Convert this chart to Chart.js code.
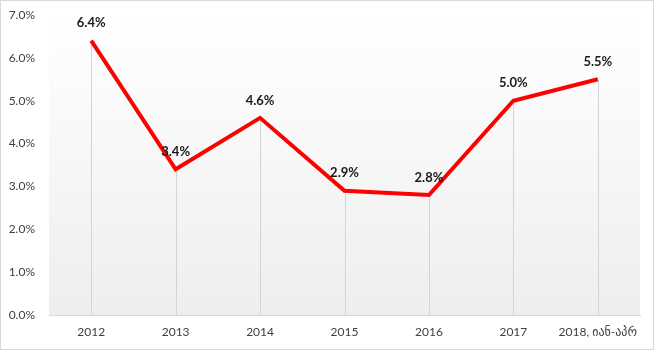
<!DOCTYPE html>
<html>
<head>
<meta charset="utf-8">
<script src="https://cdn.jsdelivr.net/npm/chart.js@4"></script>
<style>
    html, body { margin: 0; padding: 0; background: #ffffff; }
    #wrap { width: 654px; height: 350px; position: relative; }
</style>
</head>
<body>
<div id="wrap"><canvas id="rateChart"></canvas></div>
<script>
/* ── Data ── */
const years  = ['2012', '2013', '2014', '2015', '2016', '2017', '2018, იან-აპრ'];
const rates  = [6.4, 3.4, 4.6, 2.9, 2.8, 5.0, 5.5];
const yTicks = [0, 1, 2, 3, 4, 5, 6, 7];

const FONT = "Lato, 'DejaVu Sans', sans-serif";

/* ── Plot area gradient + outer frame ── */
const frame = {
    id: 'frame',
    beforeDraw(chart) {
        const { ctx, chartArea: a } = chart;
        ctx.save();
        const g = ctx.createLinearGradient(0, a.top, 0, a.bottom);
        g.addColorStop(0, '#ffffff');
        g.addColorStop(1, '#eeeeee');
        ctx.fillStyle = g;
        ctx.fillRect(a.left, a.top, a.right - a.left, a.bottom - a.top);
        ctx.strokeStyle = '#d9d9d9';
        ctx.lineWidth = 1;
        ctx.strokeRect(0.5, 0.5, chart.width - 1, chart.height - 1);
        ctx.restore();
    }
};

/* ── Drop lines from each point to the axis ── */
const dropLines = {
    id: 'dropLines',
    beforeDatasetsDraw(chart) {
        const { ctx, chartArea: a } = chart;
        const pts = chart.getDatasetMeta(0).data;
        ctx.save();
        ctx.strokeStyle = '#d4d4d4';
        ctx.lineWidth = 1;
        pts.forEach(p => {
            const x = Math.round(p.x) + 0.5;
            ctx.beginPath();
            ctx.moveTo(x, p.y);
            ctx.lineTo(x, a.bottom);
            ctx.stroke();
        });
        ctx.restore();
    }
};

/* ── Value labels above points ── */
const valueLabels = {
    id: 'valueLabels',
    afterDatasetsDraw(chart) {
        const { ctx } = chart;
        const pts = chart.getDatasetMeta(0).data;
        ctx.save();
        ctx.font = `bold 13px ${FONT}`;
        ctx.fillStyle = '#1a1a1a';
        ctx.textAlign = 'center';
        ctx.textBaseline = 'bottom';
        pts.forEach((p, i) => {
            ctx.fillText(rates[i].toFixed(1) + '%', p.x, p.y - 11);
        });
        ctx.restore();
    }
};

new Chart(document.getElementById('rateChart'), {
    type: 'line',
    data: {
        labels: years,
        datasets: [{
            data: rates,
            borderColor: '#ff0000',
            borderWidth: 4,
            pointRadius: 0,
            tension: 0,
            fill: false
        }]
    },
    options: {
        responsive: true,
        maintainAspectRatio: false,
        animation: false,
        layout: { padding: { top: 15, right: 14, left: 0, bottom: 0 } },
        plugins: { legend: { display: false }, tooltip: { enabled: false } },
        scales: {
            x: {
                offset: true,
                grid: { display: false, drawTicks: false },
                border: { display: true, color: '#d9d9d9', width: 1 },
                ticks: { color: '#404040', padding: 10, font: { size: 12, family: FONT } },
                afterFit(s) { s.height = 35; s.paddingLeft = 0; s.paddingRight = 0; }
            },
            y: {
                min: 0, max: 7,
                afterBuildTicks(s) { s.ticks = yTicks.map(v => ({ value: v })); },
                grid: { display: false, drawTicks: false },
                border: { display: false },
                ticks: {
                    color: '#404040',
                    padding: 14,
                    font: { size: 12, family: FONT },
                    callback: v => v.toFixed(1) + '%'
                },
                afterFit(s) { s.width = 49; s.paddingTop = 0; s.paddingBottom = 0; }
            }
        }
    },
    plugins: [frame, dropLines, valueLabels]
});
</script>
</body>
</html>
